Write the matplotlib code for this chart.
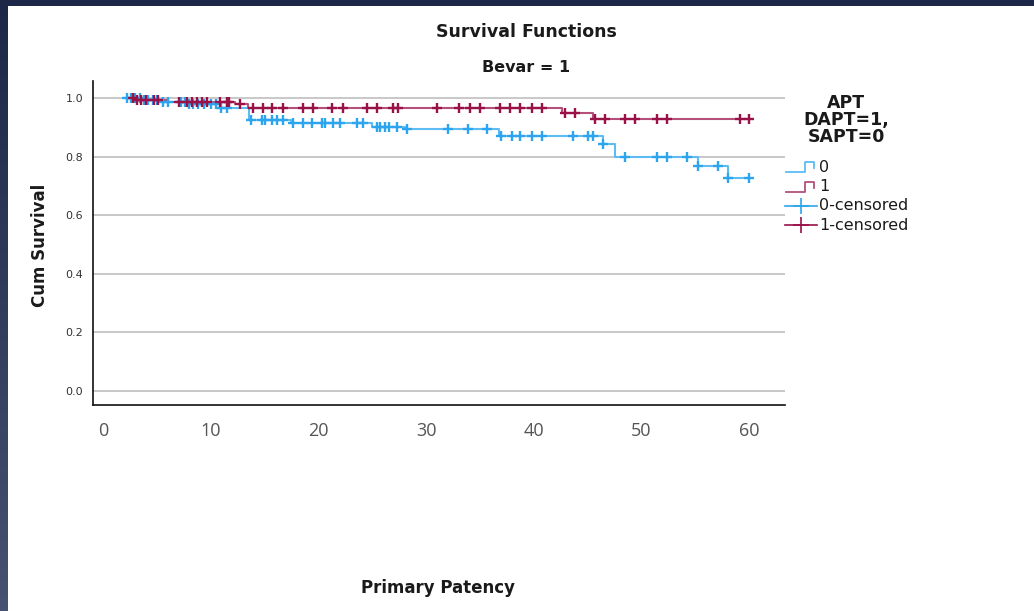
import numpy as np
import matplotlib
matplotlib.use("Agg")
import matplotlib.pyplot as plt
from matplotlib.lines import Line2D
from matplotlib.colors import LinearSegmentedColormap

# ---------------- data ----------------
groups = ["0", "1"]
# APT = 0 (blue)
t0_steps = [2.0, 3.6, 5.5, 8.0, 11.0, 13.6, 17.5, 25.0, 28.0, 36.8, 46.4, 47.5, 55.2, 58.0]
s0_steps = [1.0, 0.993, 0.986, 0.979, 0.966, 0.925, 0.915, 0.900, 0.894, 0.870, 0.843, 0.800, 0.768, 0.727]
t0_end = 60.0
t0_cens = [2.2, 2.6, 3.0, 3.4, 3.8, 4.2, 4.6, 5.0, 5.6, 6.0, 7.2, 7.6, 8.0, 8.4, 8.8, 9.4,
           10.0, 10.5, 11.0, 11.5, 13.7, 14.8, 15.0, 15.7, 16.2, 16.7, 17.6, 18.6, 19.4,
           20.3, 20.6, 21.4, 22.0, 23.6, 24.1, 25.4, 25.7, 26.2, 26.6, 27.3, 28.2, 32.0,
           33.9, 35.7, 37.0, 38.0, 38.7, 39.8, 40.8, 43.6, 45.0, 45.5, 46.4, 48.5, 51.4,
           52.4, 54.2, 55.2, 57.1, 58.0, 60.0]
# APT = 1 (red)
t1_steps = [2.6, 3.2, 6.0, 12.3, 13.5, 42.6, 45.5]
s1_steps = [1.0, 0.993, 0.986, 0.978, 0.966, 0.949, 0.930]
t1_end = 60.0
t1_cens = [2.8, 3.2, 3.5, 4.0, 4.7, 5.1, 7.1, 7.8, 8.3, 8.7, 9.2, 9.7, 10.9, 11.5, 11.7,
           12.7, 13.9, 14.9, 15.7, 16.7, 18.6, 19.5, 21.3, 22.3, 24.5, 25.4, 26.9, 27.4,
           31.0, 33.1, 34.1, 35.0, 36.9, 37.8, 38.7, 39.8, 40.8, 42.9, 43.8, 45.7, 46.6,
           48.5, 49.4, 51.4, 52.4, 59.1, 60.0]

x_ticks = [0, 10, 20, 30, 40, 50, 60]
y_ticks = [0.0, 0.2, 0.4, 0.6, 0.8, 1.0]

title = "Survival Functions"
subtitle = "Bevar = 1"
xlabel = "Primary Patency"
ylabel = "Cum Survival"
legend_title = "APT\nDAPT=1,\nSAPT=0"
legend_labels = ["0", "1", "0-censored", "1-censored"]

# ---------------- style ----------------
blue_line = "#5DBDF2"
blue_mark = "#2CA5EE"
red_line = "#B4507A"
red_mark = "#9A1148"

W, H = 1034, 611
fig = plt.figure(figsize=(W / 100, H / 100), dpi=100)
fig.patch.set_facecolor("white")

# dark slide border (top and left)
grad = np.linspace(0, 1, 256).reshape(-1, 1)
cm = LinearSegmentedColormap.from_list("b", ["#1D2747", "#46526F"])
axl = fig.add_axes([0, 0, 8 / W, 1])
axl.imshow(grad, aspect="auto", cmap=cm, extent=[0, 1, 0, 1], origin="upper")
axl.axis("off")
axt = fig.add_axes([0, 1 - 6 / H, 1, 6 / H])
axt.set_facecolor("#1D2747")
axt.set_xticks([]); axt.set_yticks([])
for s in axt.spines.values():
    s.set_visible(False)

# main axes
x0, x1 = 93, 785
y_top, y_bot = 81, 405
ax = fig.add_axes([x0 / W, (H - y_bot) / H, (x1 - x0) / W, (y_bot - y_top) / H])
ax.set_xlim(-10 / 10.77, (x1 - 103) / 10.77)
ax.set_ylim(-14 / 293, (391 - 81) / 293)

for yv in y_ticks:
    ax.axhline(yv, color="#C8C8C8", lw=1.4, zorder=0)

def step_xy(ts, ss, tend):
    xs = list(ts) + [tend]
    ys = list(ss) + [ss[-1]]
    return xs, ys

def surv_at(ts, ss, t):
    idx = np.searchsorted(np.array(ts), t, side="right") - 1
    idx = max(idx, 0)
    return ss[idx]

series = [
    (t0_steps, s0_steps, t0_end, t0_cens, blue_line, blue_mark),
    (t1_steps, s1_steps, t1_end, t1_cens, red_line, red_mark),
]
for ts, ss, tend, tc, lc, mc in series:
    xs, ys = step_xy(ts, ss, tend)
    ax.step(xs, ys, where="post", color=lc, lw=1.5, zorder=2)

for ts, ss, tend, tc, lc, mc in series:
    cy = [surv_at(ts, ss, t) for t in tc]
    ax.plot(tc, cy, linestyle="none", marker="+", markersize=6.8, markeredgewidth=1.7,
            color=mc, zorder=3)

ax.set_xticks(x_ticks)
ax.set_xticklabels([str(v) for v in x_ticks], fontsize=13, color="#555555",
                   family="Open Sans")
ax.set_yticks(y_ticks)
ax.set_yticklabels([f"{v:.1f}" for v in y_ticks], fontsize=8, color="#333333")
ax.tick_params(axis="x", length=0, pad=12)
ax.tick_params(axis="y", length=0, pad=7)
for s in ["top", "right"]:
    ax.spines[s].set_visible(False)
for s in ["left", "bottom"]:
    ax.spines[s].set_color("#111111")
    ax.spines[s].set_linewidth(1.2)

# titles / labels
fig.text(526 / W, 1 - 32 / H, title, ha="center", va="center", fontsize=12.5,
         fontweight="bold", color="#1a1a1a")
fig.text(526 / W, 1 - 68 / H, subtitle, ha="center", va="center", fontsize=11.5,
         fontweight="bold", color="#1a1a1a")
fig.text(438 / W, 1 - 588 / H, xlabel, ha="center", va="center", fontsize=12,
         fontweight="bold", color="#1a1a1a")
fig.text(40 / W, 1 - 245 / H, ylabel, ha="center", va="center", fontsize=12,
         fontweight="bold", rotation=90, color="#1a1a1a")

def fx(px):
    return px / W

def fy(py):
    return 1 - py / H

# legend (manual)
fig.text(846 / W, fy(120), legend_title, ha="center", va="center", fontsize=12.5,
         fontweight="bold", linespacing=0.95, color="#1a1a1a")

# step handles
for py, col in [(167, blue_line), (187, red_line)]:
    xs = [fx(786), fx(805), fx(805), fx(814), fx(814)]
    ys = [fy(py + 5), fy(py + 5), fy(py - 5), fy(py - 5), fy(py + 1)]
    fig.add_artist(Line2D(xs, ys, color=col, lw=1.3, transform=fig.transFigure))
# censored handles
for py, col in [(206, blue_mark), (225, red_mark)]:
    fig.add_artist(Line2D([fx(785), fx(817)], [fy(py), fy(py)], color=col, lw=1.2,
                          transform=fig.transFigure))
    fig.add_artist(Line2D([fx(801)], [fy(py)], marker="+", markersize=12,
                          markeredgewidth=1.2, color=col, transform=fig.transFigure))

for lbl, px, py in [(legend_labels[0], 819, 167), (legend_labels[1], 819, 187),
                    (legend_labels[2], 819, 206), (legend_labels[3], 819, 225)]:
    fig.text(px / W, fy(py), lbl, ha="left", va="center", fontsize=11.5, color="#1a1a1a")

fig.savefig("out.png", dpi=100)
